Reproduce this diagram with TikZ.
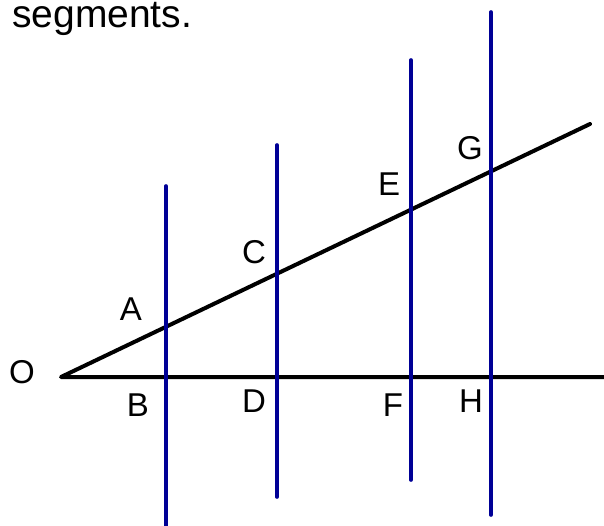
\documentclass[tikz,border=0pt]{standalone}
\usepackage{fontspec}
\setmainfont{Liberation Sans}
\definecolor{navy}{RGB}{0,0,150}
\begin{document}
\begin{tikzpicture}[x=1pt,y=-1pt,
  ray/.style={line width=4pt,line cap=round,line join=round,black},
  vline/.style={line width=3.6pt,line cap=round,navy},
  lbl/.style={inner sep=0pt,font=\fontsize{33}{33}\selectfont}]
\useasboundingbox (0,0) rectangle (604,526);
\node[anchor=base west,inner sep=0pt,font=\fontsize{39}{39}\selectfont] (title) at (12,28) {segments.};
% rays
\coordinate (O) at (61,377);
\coordinate (Rend) at (590,124);
\coordinate (Hend) at (606,377);
\draw[ray] (Rend) -- (O) -- (Hend);
% verticals
\coordinate (v1t) at (166,186); \coordinate (v1b) at (166,528);
\coordinate (v2t) at (277,145); \coordinate (v2b) at (277,497);
\coordinate (v3t) at (411,60);  \coordinate (v3b) at (411,480);
\coordinate (v4t) at (491,12);  \coordinate (v4b) at (491,515);
\draw[vline] (v1t) -- (v1b);
\draw[vline] (v2t) -- (v2b);
\draw[vline] (v3t) -- (v3b);
\draw[vline] (v4t) -- (v4b);
% labels
\node[lbl] (lO) at (22,372) {O};
\node[lbl] (lA) at (131,309) {A};
\node[lbl] (lB) at (138,405) {B};
\node[lbl] (lC) at (254,252) {C};
\node[lbl] (lD) at (254,401) {D};
\node[lbl] (lE) at (389,184) {E};
\node[lbl] (lF) at (393,405) {F};
\node[lbl] (lG) at (470,148) {G};
\node[lbl] (lH) at (471,401) {H};
\end{tikzpicture}
\end{document}
